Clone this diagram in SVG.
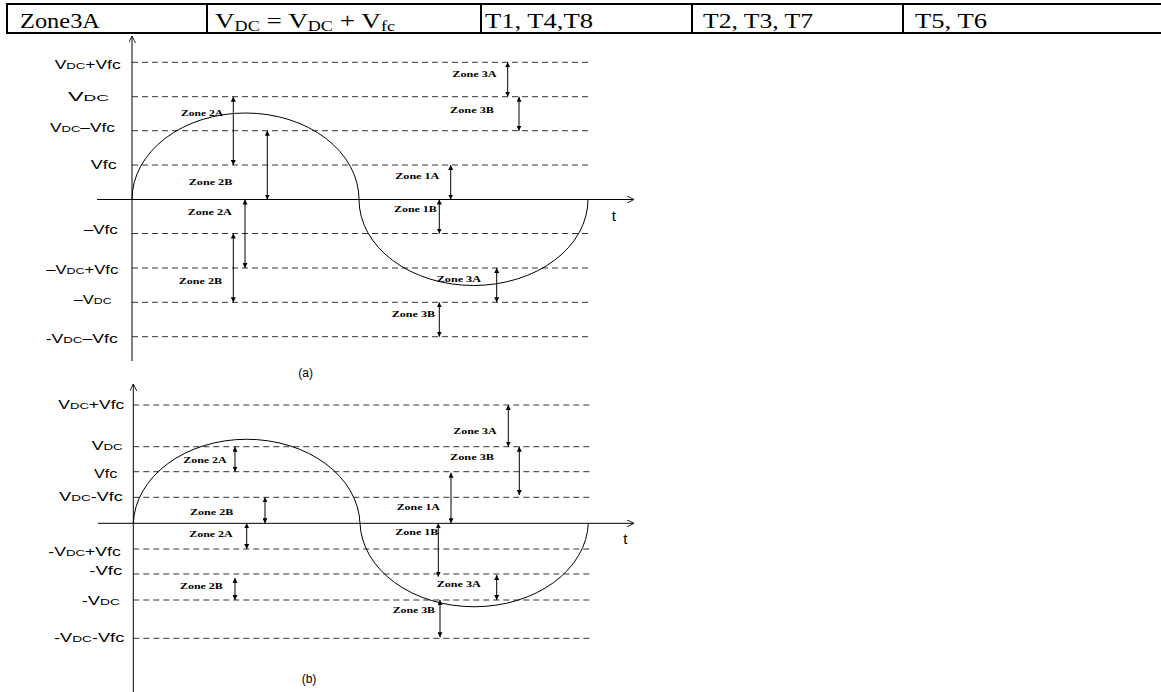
<svg xmlns="http://www.w3.org/2000/svg" width="1161" height="692" viewBox="0 0 1161 692">
<defs>
<style>
.tb{stroke:#000;stroke-width:2;fill:none}
.tt{font-family:"Liberation Serif",serif;font-size:21px;fill:#000}
.ax{stroke:#000;stroke-width:1;fill:none}
.ds{stroke:#333;stroke-width:1;stroke-dasharray:6 4;fill:none}
.cv{stroke:#000;stroke-width:1;fill:none}
.ar{stroke:#000;stroke-width:1;fill:none;marker-start:url(#ah);marker-end:url(#ah)}
.lb{font-family:"Liberation Sans",Arial,sans-serif;font-size:12px;fill:#000}
.tl{font-family:"Liberation Sans",Arial,sans-serif;font-size:15px;fill:#000}
.sb{font-size:9px}
.zn{font-family:"Liberation Serif",serif;font-size:8px;font-weight:bold;fill:#000}
</style>
<marker id="ah" viewBox="0 0 6 6" refX="6" refY="3" markerWidth="5" markerHeight="5" markerUnits="userSpaceOnUse" orient="auto-start-reverse">
<path d="M0,0 L6,3 L0,6 z" fill="#000"/>
</marker>
<marker id="oa" viewBox="0 0 8 8" refX="8" refY="4" markerWidth="7" markerHeight="7" markerUnits="userSpaceOnUse" orient="auto">
<path d="M0,0 L8,4 L0,8" fill="none" stroke="#000" stroke-width="1"/>
</marker>
</defs>

<g id="table">
<line class="tb" x1="6" y1="4" x2="1161" y2="4"/>
<line class="tb" x1="6" y1="33" x2="1161" y2="33"/>
<line class="tb" x1="7" y1="3" x2="7" y2="34"/>
<line class="tb" x1="207" y1="3" x2="207" y2="34"/>
<line class="tb" x1="481" y1="3" x2="481" y2="34"/>
<line class="tb" x1="692" y1="3" x2="692" y2="34"/>
<line class="tb" x1="903" y1="3" x2="903" y2="34"/>
<text class="tt" x="20" y="28" textLength="80" lengthAdjust="spacingAndGlyphs">Zone3A</text>
<text class="tt" x="215" y="28" textLength="180" lengthAdjust="spacingAndGlyphs">V<tspan font-size="14" dy="3">DC</tspan><tspan dy="-3"> = V</tspan><tspan font-size="14" dy="3">DC</tspan><tspan dy="-3"> + V</tspan><tspan font-size="14" dy="3">fc</tspan></text>
<text class="tt" x="485" y="28" textLength="108" lengthAdjust="spacingAndGlyphs">T1, T4,T8</text>
<text class="tt" x="703" y="28" textLength="110" lengthAdjust="spacingAndGlyphs">T2, T3, T7</text>
<text class="tt" x="915" y="28" textLength="72" lengthAdjust="spacingAndGlyphs">T5, T6</text>
</g>

<g id="plot-a">
<g id="a-grid">
<line class="ds" x1="132" y1="62.3" x2="588" y2="62.3"/>
<line class="ds" x1="132" y1="96.7" x2="588" y2="96.7"/>
<line class="ds" x1="132" y1="130.7" x2="588" y2="130.7"/>
<line class="ds" x1="132" y1="165" x2="588" y2="165"/>
<line class="ds" x1="132" y1="233.5" x2="588" y2="233.5"/>
<line class="ds" x1="132" y1="268" x2="588" y2="268"/>
<line class="ds" x1="132" y1="302.3" x2="588" y2="302.3"/>
<line class="ds" x1="132" y1="336.7" x2="588" y2="336.7"/>
</g>
<g id="a-axes">
<line class="ax" x1="132" y1="361" x2="132" y2="36" marker-end="url(#oa)"/>
<line class="ax" x1="97" y1="199.5" x2="634" y2="199.5" marker-end="url(#oa)"/>
</g>
<path id="a-curve" class="cv" d="M132,199.5 A113.5,86.5 0 0 1 359,199.5 A114.5,86 0 0 0 588,199.5"/>
<g id="a-labels">
<text class="lb" x="120.7" y="69.3" text-anchor="end" textLength="66" lengthAdjust="spacingAndGlyphs">V<tspan class="sb">DC</tspan>+Vfc</text>
<text class="lb" x="109" y="100.6" text-anchor="end" textLength="41" lengthAdjust="spacingAndGlyphs">V<tspan class="sb">DC</tspan></text>
<text class="lb" x="115" y="132" text-anchor="end" textLength="65" lengthAdjust="spacingAndGlyphs">V<tspan class="sb">DC</tspan>–Vfc</text>
<text class="lb" x="116.7" y="169.3" text-anchor="end" textLength="26" lengthAdjust="spacingAndGlyphs">Vfc</text>
<text class="lb" x="117.7" y="234.3" text-anchor="end" textLength="34" lengthAdjust="spacingAndGlyphs">–Vfc</text>
<text class="lb" x="118.3" y="274.3" text-anchor="end" textLength="72" lengthAdjust="spacingAndGlyphs">–V<tspan class="sb">DC</tspan>+Vfc</text>
<text class="lb" x="111.7" y="304.3" text-anchor="end" textLength="38" lengthAdjust="spacingAndGlyphs">–V<tspan class="sb">DC</tspan></text>
<text class="lb" x="117.7" y="342.6" text-anchor="end" textLength="72" lengthAdjust="spacingAndGlyphs">-V<tspan class="sb">DC</tspan>–Vfc</text>
<text class="tl" x="611.7" y="220.5">t</text>
<text class="lb" x="298.3" y="377">(a)</text>
</g>
<g id="a-arrows">
<line class="ar" x1="233.3" y1="96.7" x2="233.3" y2="165"/>
<line class="ar" x1="267.3" y1="130.7" x2="267.3" y2="199.5"/>
<line class="ar" x1="245" y1="199.5" x2="245" y2="268"/>
<line class="ar" x1="233.3" y1="233.5" x2="233.3" y2="302.3"/>
<line class="ar" x1="507.7" y1="62.3" x2="507.7" y2="96.7"/>
<line class="ar" x1="519" y1="96.7" x2="519" y2="130.7"/>
<line class="ar" x1="450.7" y1="165" x2="450.7" y2="199.5"/>
<line class="ar" x1="439.3" y1="199.5" x2="439.3" y2="233.5"/>
<line class="ar" x1="496.7" y1="268" x2="496.7" y2="302.3"/>
<line class="ar" x1="439.3" y1="302.3" x2="439.3" y2="336.7"/>
</g>
<g id="a-zones">
<text class="zn" x="181" y="116" textLength="42" lengthAdjust="spacingAndGlyphs">Zone 2A</text>
<text class="zn" x="188.7" y="185.4" textLength="43.6" lengthAdjust="spacingAndGlyphs">Zone 2B</text>
<text class="zn" x="187.7" y="215.2" textLength="44" lengthAdjust="spacingAndGlyphs">Zone 2A</text>
<text class="zn" x="178.7" y="284.4" textLength="43.3" lengthAdjust="spacingAndGlyphs">Zone 2B</text>
<text class="zn" x="452.3" y="77" textLength="44.4" lengthAdjust="spacingAndGlyphs">Zone 3A</text>
<text class="zn" x="450" y="112.7" textLength="44" lengthAdjust="spacingAndGlyphs">Zone 3B</text>
<text class="zn" x="395.3" y="179.4" textLength="44" lengthAdjust="spacingAndGlyphs">Zone 1A</text>
<text class="zn" x="394" y="211.7" textLength="42.7" lengthAdjust="spacingAndGlyphs">Zone 1B</text>
<text class="zn" x="436.7" y="282" textLength="44.3" lengthAdjust="spacingAndGlyphs">Zone 3A</text>
<text class="zn" x="391.7" y="316.7" textLength="43.3" lengthAdjust="spacingAndGlyphs">Zone 3B</text>
</g>
</g>

<g id="plot-b">
<g id="b-grid">
<line class="ds" x1="133.3" y1="405" x2="590" y2="405"/>
<line class="ds" x1="133.3" y1="446.7" x2="590" y2="446.7"/>
<line class="ds" x1="133.3" y1="471.7" x2="590" y2="471.7"/>
<line class="ds" x1="133.3" y1="497.3" x2="590" y2="497.3"/>
<line class="ds" x1="133.3" y1="549" x2="590" y2="549"/>
<line class="ds" x1="133.3" y1="574" x2="590" y2="574"/>
<line class="ds" x1="133.3" y1="600" x2="590" y2="600"/>
<line class="ds" x1="133.3" y1="638.3" x2="590" y2="638.3"/>
</g>
<g id="b-axes">
<line class="ax" x1="133.3" y1="692" x2="133.3" y2="384" marker-end="url(#oa)"/>
<line class="ax" x1="98" y1="523.3" x2="634" y2="523.3" marker-end="url(#oa)"/>
</g>
<path id="b-curve" class="cv" d="M133.3,523.3 A113.4,86.6 0 0 1 360,523.3 A114.2,86 0 0 0 588.3,523.3"/>
<g id="b-labels">
<text class="lb" x="124.3" y="409.3" text-anchor="end" textLength="66" lengthAdjust="spacingAndGlyphs">V<tspan class="sb">DC</tspan>+Vfc</text>
<text class="lb" x="122.7" y="450.3" text-anchor="end" textLength="31" lengthAdjust="spacingAndGlyphs">V<tspan class="sb">DC</tspan></text>
<text class="lb" x="117.3" y="477.6" text-anchor="end" textLength="23.3" lengthAdjust="spacingAndGlyphs">Vfc</text>
<text class="lb" x="122.7" y="501" text-anchor="end" textLength="63.4" lengthAdjust="spacingAndGlyphs">V<tspan class="sb">DC</tspan>-Vfc</text>
<text class="lb" x="120.7" y="556" text-anchor="end" textLength="72.4" lengthAdjust="spacingAndGlyphs">-V<tspan class="sb">DC</tspan>+Vfc</text>
<text class="lb" x="122.3" y="575" text-anchor="end" textLength="33" lengthAdjust="spacingAndGlyphs">-Vfc</text>
<text class="lb" x="120" y="605.3" text-anchor="end" textLength="38.3" lengthAdjust="spacingAndGlyphs">-V<tspan class="sb">DC</tspan></text>
<text class="lb" x="124.3" y="641.6" text-anchor="end" textLength="70.3" lengthAdjust="spacingAndGlyphs">-V<tspan class="sb">DC</tspan>-Vfc</text>
<text class="tl" x="623.3" y="543.8">t</text>
<text class="lb" x="301.7" y="682.6">(b)</text>
</g>
<g id="b-arrows">
<line class="ar" x1="235" y1="446.7" x2="235" y2="471.7"/>
<line class="ar" x1="265" y1="497.3" x2="265" y2="523.3"/>
<line class="ar" x1="246.7" y1="523.3" x2="246.7" y2="549"/>
<line class="ar" x1="235" y1="578" x2="235" y2="600"/>
<line class="ar" x1="508.3" y1="405" x2="508.3" y2="446.7"/>
<line class="ar" x1="519.3" y1="446.7" x2="519.3" y2="495"/>
<line class="ar" x1="451" y1="472.7" x2="451" y2="523.3"/>
<line class="ar" x1="438.3" y1="523.3" x2="438.3" y2="576.7"/>
<line class="ar" x1="496.7" y1="575" x2="496.7" y2="600"/>
<line class="ar" x1="440" y1="600" x2="440" y2="637.3"/>
</g>
<g id="b-zones">
<text class="zn" x="183.3" y="463.4" textLength="43.4" lengthAdjust="spacingAndGlyphs">Zone 2A</text>
<text class="zn" x="190" y="515" textLength="43.3" lengthAdjust="spacingAndGlyphs">Zone 2B</text>
<text class="zn" x="189.3" y="537.2" textLength="43.4" lengthAdjust="spacingAndGlyphs">Zone 2A</text>
<text class="zn" x="180" y="589.4" textLength="42.7" lengthAdjust="spacingAndGlyphs">Zone 2B</text>
<text class="zn" x="453.3" y="433.7" textLength="43.4" lengthAdjust="spacingAndGlyphs">Zone 3A</text>
<text class="zn" x="450" y="460" textLength="44" lengthAdjust="spacingAndGlyphs">Zone 3B</text>
<text class="zn" x="396.7" y="510.4" textLength="43.3" lengthAdjust="spacingAndGlyphs">Zone 1A</text>
<text class="zn" x="395.3" y="534.7" textLength="43" lengthAdjust="spacingAndGlyphs">Zone 1B</text>
<text class="zn" x="436.7" y="587" textLength="44" lengthAdjust="spacingAndGlyphs">Zone 3A</text>
<text class="zn" x="392.7" y="613.4" textLength="42.3" lengthAdjust="spacingAndGlyphs">Zone 3B</text>
</g>
</g>
</svg>
